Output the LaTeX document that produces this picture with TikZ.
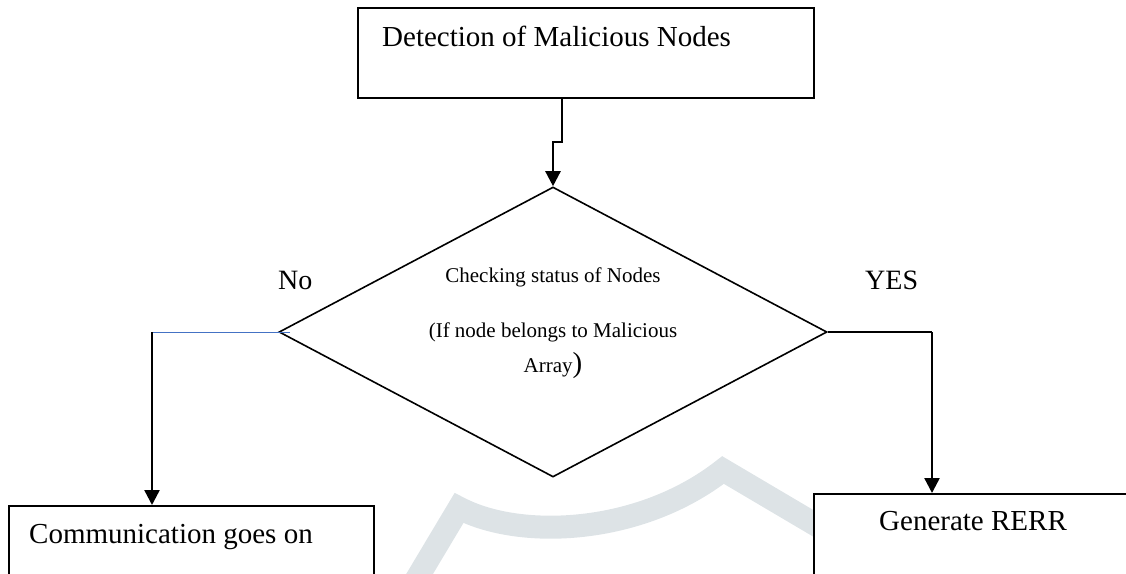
\documentclass[tikz,border=0pt]{standalone}
\usepackage{fontspec}
\setmainfont{Liberation Serif}
\usetikzlibrary{arrows.meta,shapes.geometric}
\definecolor{wmark}{RGB}{221,227,230}
\definecolor{linkblue}{RGB}{68,114,196}
\tikzset{
  box/.style={draw, line width=2pt, fill=white, inner sep=0pt},
  decision/.style={draw, diamond, line width=1.6pt, shape aspect=1.89,
                   minimum width=548pt, minimum height=290pt, inner sep=0pt},
  flow/.style={line width=2.4pt, -{Triangle[length=15pt,width=15pt]}},
  bigtxt/.style={font=\fontsize{29}{35}\selectfont, inner sep=0pt},
  smalltxt/.style={font=\fontsize{21}{35}\selectfont, inner sep=0pt, align=center},
}
\begin{document}
\begin{tikzpicture}[x=1pt,y=-1pt]
\useasboundingbox (0,0) rectangle (1126,573);
\clip (0,0) rectangle (1126,573);

% faint emblem in the background
\draw[wmark, line width=23pt, line join=miter]
  (410,590) -- (459,508) .. controls (520,540) and (640,535) .. (723,470) -- (850,545);

% boxes
\node[box, minimum width=456pt, minimum height=90pt, anchor=north west] (detect) at (357,7) {};
\node[bigtxt, anchor=base west] (detecttxt) at (382,46) {Detection of Malicious Nodes};

\node[decision] (check) at (553,332) {};
\node[smalltxt] (checktxt) at (553,323)
  {Checking status of Nodes\\[20pt](If node belongs to Malicious\\Array{\fontsize{29}{35}\selectfont)}};

\node[box, minimum width=365pt, minimum height=130pt, anchor=north west] (comm) at (8,505) {};
\node[bigtxt, anchor=base west] (commtxt) at (29,543) {Communication goes on};

\node[box, minimum width=340pt, minimum height=130pt, anchor=north west] (rerr) at (813,493) {};
\node[bigtxt, anchor=base] (rerrtxt) at (973,530) {Generate RERR};

% branch labels
\node[bigtxt, font=\fontsize{28}{34}\selectfont, anchor=base west] (nolab) at (278,289) {No};
\node[bigtxt, font=\fontsize{28}{34}\selectfont, anchor=base west] (yeslab) at (865,289) {YES};

% connectors
\coordinate (dstart) at (562,97);
\draw[flow] (dstart) -- ++(0,45) -| (check.north);

\coordinate (nobend) at (152,332);
\draw[linkblue, line width=1pt] ([xshift=12pt]check.west) -- (nobend);
\draw[flow] (nobend) -- (nobend |- comm.north);

\coordinate (yesbend) at (932,332);
\draw[line width=1.6pt] (check.east) -- (yesbend);
\draw[flow] (yesbend) -- (yesbend |- rerr.north);
\end{tikzpicture}
\end{document}
